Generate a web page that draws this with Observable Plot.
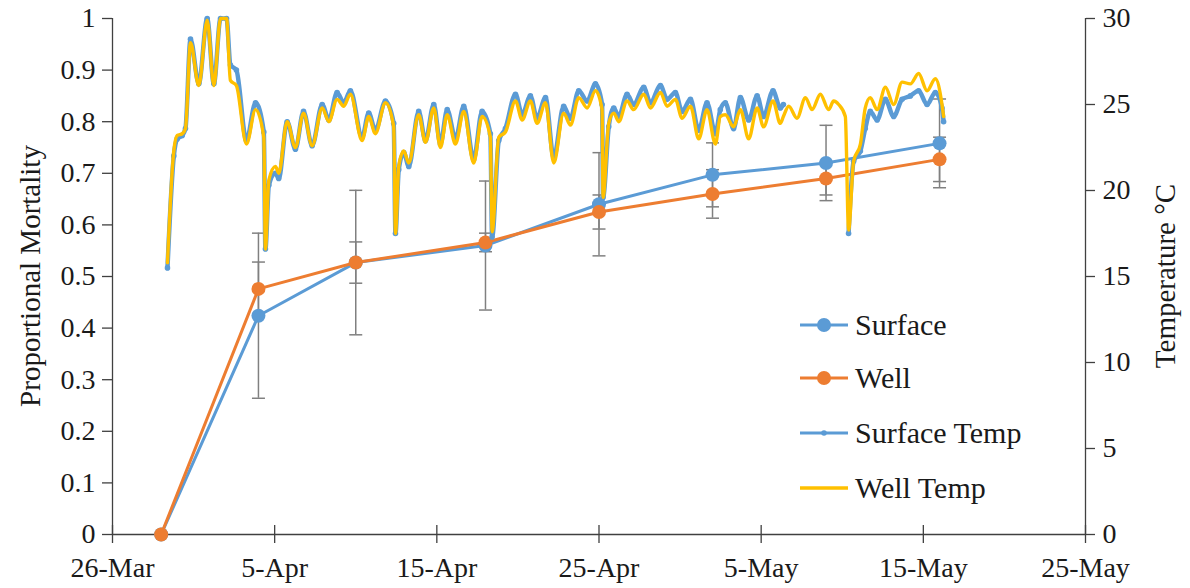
<!DOCTYPE html>
<html>
<head>
<meta charset="utf-8">
<script src="https://cdn.jsdelivr.net/npm/d3@7"></script>
<script src="https://cdn.jsdelivr.net/npm/@observablehq/plot@0.6"></script>
<style>
  html, body { margin: 0; padding: 0; background: #fff; }
  #wrap { position: relative; width: 1190px; height: 588px; font-family: "Liberation Serif", "Times New Roman", serif; color: #1a1a1a; }
  #wrap svg { display: block; }
  .title { position: absolute; white-space: nowrap; font-size: 29px; transform: translate(-50%, -50%) rotate(-90deg); }
  .leg { position: absolute; left: 798px; height: 30px; display: flex; align-items: center; font-size: 30px; white-space: nowrap; }
  .leg svg { margin-right: 5px; }
</style>
</head>
<body>
<div id="wrap"></div>
<script>
// ---------- data ----------
const START = Date.UTC(2019, 2, 26); // 26-Mar
const xTickLabels = ["26-Mar", "5-Apr", "15-Apr", "25-Apr", "5-May", "15-May", "25-May"];
const yTickLabels = ["0", "0.1", "0.2", "0.3", "0.4", "0.5", "0.6", "0.7", "0.8", "0.9", "1"];
const tempTickLabels = ["0", "5", "10", "15", "20", "25", "30"];

// mortality sampling days (days after 26-Mar)
const mortalityDays = [3, 9, 15, 23, 30, 37, 44, 51];
const surfaceMortality = [0, 0.424, 0.527, 0.560, 0.640, 0.697, 0.720, 0.758];
const wellMortality    = [0, 0.476, 0.527, 0.566, 0.625, 0.660, 0.690, 0.727];
const surfaceError     = [0, 0.160, 0.140, 0.125, 0.100, 0.062, 0.073, 0.086];
const wellError        = [0, 0.052, 0.040, 0.018, 0.033, 0.047, 0.032, 0.043];

// temperature logger readings (days after 26-Mar, °C)
const tempDays = [
  3.39, 3.78, 3.99, 4.30, 4.50, 4.81, 5.32, 5.84, 6.25, 6.66, 7.03, 7.27, 7.64, 8.26, 8.82, 9.33, 9.43, 9.64,
  10.05, 10.25, 10.77, 11.28, 11.78, 12.31, 12.93, 13.34, 13.85, 14.26, 14.67, 15.39, 15.80, 16.21, 16.83,
  17.34, 17.45, 17.65, 17.96, 18.27, 18.88, 19.30, 19.81, 20.22, 20.64, 21.15, 21.66, 22.27, 22.79, 23.30,
  23.41, 23.82, 24.23, 24.85, 25.26, 25.77, 26.18, 26.70, 27.21, 27.82, 28.24, 28.75, 29.27, 29.78, 30.19,
  30.25, 30.60, 30.91, 31.22, 31.73, 32.14, 32.76, 33.17, 33.79, 34.20, 34.71, 35.12, 35.64, 36.15, 36.66,
  37.18, 37.48, 37.79, 38.30, 38.72, 39.23, 39.75, 40.15, 40.73, 41.18, 41.37, 41.70, 42.21, 42.73, 43.14,
  43.65, 44.16, 44.47, 44.78, 45.19, 45.39, 45.70, 46.12, 46.42, 46.73, 47.15, 47.66, 48.17, 48.69, 49.20,
  49.71, 50.23, 50.74, 51.15, 51.25
];
const surfaceTemp = [
  15.5, 22.0, 23.0, 23.2, 23.6, 28.8, 26.2, 30.0, 26.2, 30.0, 30.0, 27.3, 27.0, 22.9, 25.1, 23.4, 16.6, 20.3,
  21.0, 20.7, 24.0, 22.4, 24.6, 22.6, 25.0, 24.1, 25.7, 25.1, 25.8, 23.1, 24.5, 23.5, 25.2,
  23.9, 17.5, 21.2, 22.2, 21.4, 24.6, 22.9, 25.0, 22.7, 24.7, 23.0, 24.9, 21.8, 24.6, 23.3,
  17.3, 22.9, 23.6, 25.6, 24.4, 25.5, 24.2, 25.4, 21.9, 24.9, 24.2, 25.8, 25.2, 26.2, 25.0,
  19.6, 23.7, 24.8, 24.3, 25.6, 25.0, 26.0, 25.1, 26.1, 25.3, 25.7, 24.6, 25.3, 23.5, 25.1,
  23.3, 24.7, 25.1, 23.6, 25.4, 24.1, 25.5, 24.3, 25.8, 24.8, 25.0, null, null, null, null,
  null, null, null, null, null, 17.5, 21.7, 22.3, 23.6, 24.6, 24.1, 25.3, 24.3, 25.3, 25.5,
  25.8, 25.0, 25.7, 24.8, 24.0
];
const wellTemp = [
  15.8, 22.3, 23.2, 23.3, 23.6, 28.6, 26.1, 29.9, 26.1, 30.0, 30.0, 26.4, 26.1, 22.7, 24.7, 23.1, 16.6, 20.6,
  21.4, 21.0, 24.0, 22.5, 24.5, 22.6, 24.8, 24.0, 25.3, 24.9, 25.6, 22.9, 24.3, 23.3, 25.1,
  23.7, 17.5, 21.4, 22.3, 21.6, 24.4, 22.8, 24.8, 22.5, 24.4, 22.7, 24.6, 21.6, 24.3, 23.1,
  17.6, 23.1, 23.4, 25.2, 24.1, 25.2, 23.9, 25.1, 21.6, 24.5, 23.8, 25.4, 24.8, 25.8, 24.7,
  19.6, 23.9, 24.5, 24.0, 25.2, 24.7, 25.6, 24.8, 25.7, 24.9, 25.3, 24.2, 24.9, 23.0, 24.7,
  22.7, 24.3, 24.4, 23.7, 24.7, 23.0, 24.8, 23.7, 25.2, 23.9, 24.3, 24.9, 24.2, 25.4, 24.7,
  25.6, 24.7, 25.2, 25.0, 24.3, 17.7, 21.7, 22.7, 24.8, 25.4, 24.7, 26.0, 25.0, 26.3, 26.2,
  26.8, 25.8, 26.5, 25.0, 24.3
];
const legendLabels = ["Surface", "Well", "Surface Temp", "Well Temp"];

// ---------- helpers ----------
const TMAX = 30;
const dayToDate = d => new Date(START + d * 864e5);
const blue = "#5B9BD5", orange = "#ED7D31", gold = "#FFC000", grey = "#808080", axisColor = "#404040";

const xTicks = xTickLabels.map((_, i) => dayToDate(i * 10));
const yTicks = yTickLabels.map(Number);
const tempTicks = tempTickLabels.map(t => Number(t) / TMAX);

const mortality = mortalityDays.map((d, i) => ({
  date: dayToDate(d),
  surface: surfaceMortality[i], well: wellMortality[i],
  sErr: surfaceError[i], wErr: wellError[i]
}));
const temps = tempDays.map((d, i) => ({
  date: dayToDate(d),
  surface: surfaceTemp[i] == null ? NaN : surfaceTemp[i] / TMAX,
  well: wellTemp[i] == null ? NaN : wellTemp[i] / TMAX
}));
const errBars = mortality.filter(d => d.sErr > 0);

const capSymbol = { draw(ctx, size) { const w = Math.sqrt(size / Math.PI); ctx.moveTo(-w, 0); ctx.lineTo(w, 0); } };

const W = 1190, H = 588, mL = 112, mR = 105, mT = 18, mB = 54;
const plotH = H - mT - mB;

const chart = Plot.plot({
  width: W, height: H,
  marginLeft: mL, marginRight: mR, marginTop: mT, marginBottom: mB,
  style: { fontFamily: "'Liberation Serif', 'Times New Roman', serif", fontSize: "28px", color: "#1a1a1a", background: "transparent" },
  x: { type: "utc", domain: [dayToDate(0), dayToDate(60)] },
  y: { domain: [0, 1] },
  marks: [
    // axes
    Plot.axisX({ ticks: xTicks, tickFormat: d => xTickLabels[xTicks.findIndex(t => +t === +d)], tickSize: 9, tickPadding: 14, stroke: axisColor, strokeWidth: 1.3, label: null, fill: "#1a1a1a" }),
    Plot.tickX(xTicks, { x: d => d, insetTop: plotH - 9, stroke: axisColor, strokeWidth: 1.3 }),
    Plot.axisY({ anchor: "left", ticks: yTicks, tickFormat: d => yTickLabels[yTicks.findIndex(t => Math.abs(t - d) < 1e-9)], tickSize: 10, tickPadding: 7, stroke: axisColor, strokeWidth: 1.3, label: null, fill: "#1a1a1a" }),
    Plot.axisY({ anchor: "right", ticks: tempTicks, tickFormat: d => tempTickLabels[tempTicks.findIndex(t => Math.abs(t - d) < 1e-9)], tickSize: 9, tickPadding: 8, stroke: axisColor, strokeWidth: 1.3, label: null, fill: "#1a1a1a" }),
    Plot.ruleX([dayToDate(0), dayToDate(60)], { stroke: axisColor, strokeWidth: 1.3 }),
    Plot.ruleY([0], { stroke: axisColor, strokeWidth: 1.3 }),

    // error bars
    Plot.ruleX(errBars, { x: "date", y1: d => d.surface - d.sErr, y2: d => d.surface + d.sErr, stroke: grey, strokeWidth: 1.5 }),
    Plot.ruleX(errBars, { x: "date", y1: d => d.well - d.wErr, y2: d => d.well + d.wErr, stroke: grey, strokeWidth: 1.5 }),
    Plot.dot(errBars.flatMap(d => [
      { date: d.date, v: d.surface - d.sErr }, { date: d.date, v: d.surface + d.sErr },
      { date: d.date, v: d.well - d.wErr }, { date: d.date, v: d.well + d.wErr }
    ]), { x: "date", y: "v", symbol: capSymbol, r: 6.5, stroke: grey, strokeWidth: 1.5, fill: "none" }),

    // mortality series
    Plot.line(mortality, { x: "date", y: "surface", stroke: blue, strokeWidth: 3 }),
    Plot.dot(mortality, { x: "date", y: "surface", r: 7, fill: blue }),
    Plot.line(mortality, { x: "date", y: "well", stroke: orange, strokeWidth: 3 }),
    Plot.dot(mortality, { x: "date", y: "well", r: 7, fill: orange }),

    // temperature series
    Plot.line(temps, { x: "date", y: "surface", stroke: blue, strokeWidth: 4.5, curve: "monotone-x" }),
    Plot.dot(temps.filter(d => !isNaN(d.surface)), { x: "date", y: "surface", r: 2.8, fill: blue }),
    Plot.line(temps, { x: "date", y: "well", stroke: gold, strokeWidth: 3.4, curve: "monotone-x" })
  ]
});

const wrap = document.getElementById("wrap");
wrap.appendChild(chart);

// axis titles
const t1 = document.createElement("div");
t1.className = "title"; t1.textContent = "Proportional Mortality";
t1.style.left = "30px"; t1.style.top = (mT + plotH / 2) + "px";
wrap.appendChild(t1);
const t2 = document.createElement("div");
t2.className = "title"; t2.textContent = "Temperature °C";
t2.style.left = "1165px"; t2.style.top = (mT + plotH / 2) + "px";
wrap.appendChild(t2);

// legend
const legendStyles = [
  { stroke: blue, r: 7, sw: 3 },
  { stroke: orange, r: 7, sw: 3 },
  { stroke: blue, r: 2.8, sw: 3 },
  { stroke: gold, r: 0, sw: 3.4 }
];
const legendTops = [310, 363, 418, 473];
legendLabels.forEach((lab, i) => {
  const s = legendStyles[i];
  const row = document.createElement("div");
  row.className = "leg";
  row.style.top = legendTops[i] + "px";
  row.innerHTML = `<svg width="52" height="30"><line x1="2" y1="15" x2="50" y2="15" stroke="${s.stroke}" stroke-width="${s.sw}"/>` +
    (s.r ? `<circle cx="26" cy="15" r="${s.r}" fill="${s.stroke}"/>` : "") + `</svg><span>${lab}</span>`;
  wrap.appendChild(row);
});
</script>
</body>
</html>
